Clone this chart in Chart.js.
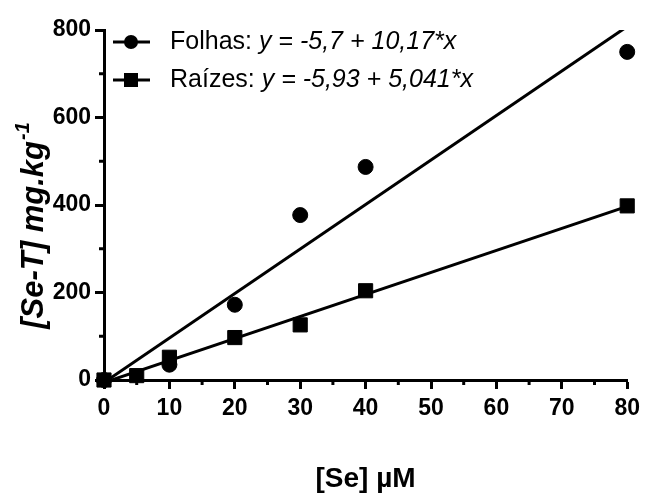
<!DOCTYPE html>
<html>
<head>
<meta charset="utf-8">
<script src="https://cdn.jsdelivr.net/npm/chart.js@4.4.0/dist/chart.umd.min.js"></script>
<style>
  html, body { margin: 0; padding: 0; background: #fff; }
  #wrap { width: 646px; height: 496px; }
</style>
</head>
<body>
<div id="wrap"><canvas id="chartCanvas" width="646" height="496"></canvas></div>
<script>
"use strict";

// measured points
const folhasX = [0, 10, 20, 30, 40, 80];
const folhasY = [0, 35, 172, 377, 487, 750];
const raizesX = [0, 5, 10, 20, 30, 40, 80];
const raizesY = [0, 10, 52, 97, 126, 204, 398];

// fitted lines, read at both ends
const fitX = [0, 80];
const folhasFit = [-5.7, 808];
const raizesFit = [-5.9, 397];

const xTicks = [0, 10, 20, 30, 40, 50, 60, 70, 80];
const xMinor = [5, 15, 25, 35, 45, 55, 65, 75];
const yTicks = [0, 200, 400, 600, 800];
const yMinor = [100, 300, 500, 700];

const legendNames = ['Folhas: ', 'Raízes: '];
const legendEquations = ['y = -5,7 + 10,17*x', 'y = -5,93 + 5,041*x'];

const FONT = "'Liberation Sans', Arial, sans-serif";

function pts(xs, ys) {
    return xs.map((x, i) => ({ x: x, y: ys[i] }));
}

// minor ticks, legend and y title
const extras = {
    id: 'extras',
    afterDraw(chart) {
        const ctx = chart.ctx;
        const xs = chart.scales.x;
        const ys = chart.scales.y;
        const area = chart.chartArea;
        ctx.save();
        ctx.strokeStyle = '#000';
        ctx.fillStyle = '#000';
        ctx.lineWidth = 3;

        xMinor.forEach(v => {
            const px = xs.getPixelForValue(v);
            ctx.beginPath();
            ctx.moveTo(px, area.bottom);
            ctx.lineTo(px, area.bottom + 5);
            ctx.stroke();
        });
        yMinor.forEach(v => {
            const py = ys.getPixelForValue(v);
            ctx.beginPath();
            ctx.moveTo(area.left, py);
            ctx.lineTo(area.left - 5, py);
            ctx.stroke();
        });

        // legend
        const rows = [42, 80];
        rows.forEach((y, i) => {
            ctx.beginPath();
            ctx.moveTo(113, y);
            ctx.lineTo(150, y);
            ctx.stroke();
            if (i === 0) {
                ctx.beginPath();
                ctx.arc(131, y, 7, 0, Math.PI * 2);
                ctx.fill();
            } else {
                ctx.fillRect(124, y - 7, 14, 14);
            }
            ctx.textBaseline = 'middle';
            ctx.textAlign = 'left';
            ctx.font = '25px ' + FONT;
            ctx.fillText(legendNames[i], 170, y);
            const w = ctx.measureText(legendNames[i]).width;
            ctx.font = 'italic 25px ' + FONT;
            ctx.fillText(legendEquations[i], 170 + w, y);
        });

        // y title with superscript
        ctx.translate(34, 226);
        ctx.rotate(-Math.PI / 2);
        ctx.font = 'italic bold 31px ' + FONT;
        const main = '[Se-T] mg.kg';
        const mw = ctx.measureText(main).width;
        ctx.font = 'italic bold 20px ' + FONT;
        const sw = ctx.measureText('-1').width;
        const start = -(mw + sw) / 2;
        ctx.textBaseline = 'middle';
        ctx.font = 'italic bold 31px ' + FONT;
        ctx.fillText(main, start, 0);
        ctx.font = 'italic bold 20px ' + FONT;
        ctx.fillText('-1', start + mw + 1, -11);
        ctx.restore();
    }
};

const tickFont = { family: FONT, size: 23, weight: 'bold' };

const config = {
    type: 'scatter',
    data: {
        datasets: [
            {
                label: 'Folhas',
                data: pts(folhasX, folhasY),
                pointStyle: 'circle',
                pointRadius: 7.5,
                backgroundColor: '#000',
                borderColor: '#000',
                clip: false
            },
            {
                label: 'Raízes',
                data: pts(raizesX, raizesY),
                pointStyle: 'rect',
                pointRadius: 10,
                backgroundColor: '#000',
                borderColor: '#000',
                clip: false
            },
            {
                label: 'Folhas fit',
                data: pts(fitX, folhasFit),
                showLine: true,
                pointRadius: 0,
                borderColor: '#000',
                borderWidth: 3,
                clip: { left: 0, top: 0, right: 0, bottom: 6 }
            },
            {
                label: 'Raízes fit',
                data: pts(fitX, raizesFit),
                showLine: true,
                pointRadius: 0,
                borderColor: '#000',
                borderWidth: 3,
                clip: { left: 0, top: 0, right: 0, bottom: 6 }
            }
        ]
    },
    options: {
        responsive: false,
        animation: false,
        events: [],
        layout: { padding: { left: 0, right: 13, top: 30, bottom: 0 } },
        plugins: {
            legend: { display: false },
            tooltip: { enabled: false }
        },
        scales: {
            x: {
                type: 'linear',
                min: 0,
                max: 80,
                afterBuildTicks: s => { s.ticks = xTicks.map(v => ({ value: v })); },
                afterFit: s => { s.height = 116; },
                border: { color: '#000', width: 3 },
                grid: { drawOnChartArea: false, color: '#000', tickLength: 9, tickWidth: 3 },
                ticks: { color: '#000', font: tickFont, padding: 6 },
                title: {
                    display: true,
                    text: '[Se] µM',
                    color: '#000',
                    font: { family: FONT, size: 28, weight: 'bold' },
                    padding: { top: 0, bottom: 0 }
                }
            },
            y: {
                type: 'linear',
                min: 0,
                max: 800,
                afterBuildTicks: s => { s.ticks = yTicks.map(v => ({ value: v })); },
                afterFit: s => { s.width = 104; },
                border: { color: '#000', width: 3 },
                grid: { drawOnChartArea: false, color: '#000', tickLength: 9, tickWidth: 3 },
                ticks: { color: '#000', font: tickFont, padding: 4 }
            }
        }
    },
    plugins: [extras]
};

new Chart(document.getElementById('chartCanvas'), config);
</script>
</body>
</html>
